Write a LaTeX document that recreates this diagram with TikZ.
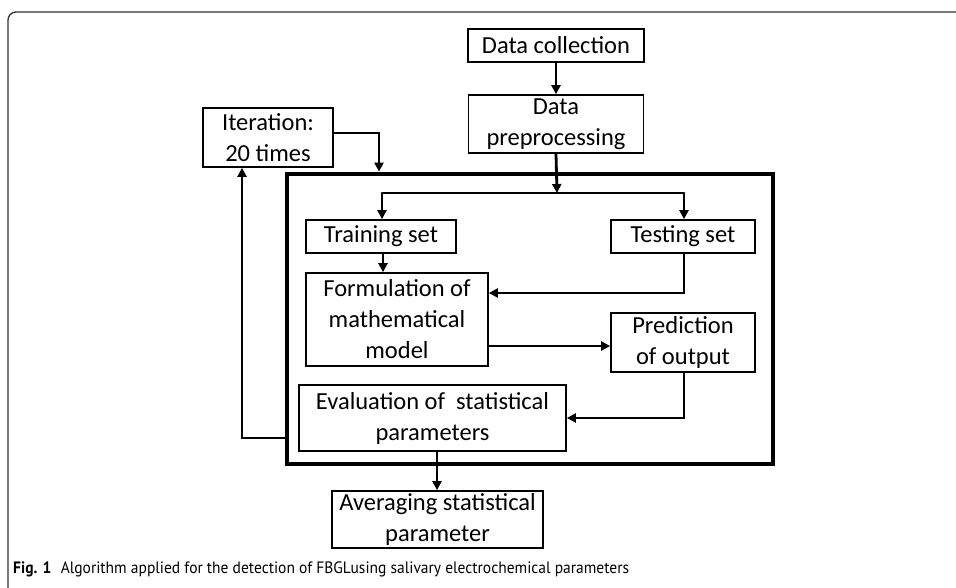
\documentclass[tikz,border=0pt]{standalone}
\usepackage{fontspec}
\setmainfont{Carlito}
\newfontfamily\capfont{PT Sans}
\usetikzlibrary{arrows.meta}
\tikzset{
  box/.style={draw, line width=1.7pt, inner sep=0pt, align=center,
    font=\fontsize{24.5pt}{31pt}\selectfont},
  conn/.style={line width=2.8pt, -{Triangle[length=9pt,width=9pt]}},
  plain/.style={line width=2.8pt},
  bigbox/.style={draw, line width=4.8pt, inner sep=0pt}
}
\begin{document}
\begin{tikzpicture}[x=1pt,y=-1pt]
\useasboundingbox (0,0) rectangle (956,588);
\draw[line width=1.3pt, draw=black!80, rounded corners=8pt] (956,12) -- (8,12) -- (8,590);

\node[bigbox, minimum width=486pt, minimum height=290pt] (big) at (530,319) {};

\node[box, minimum width=176pt, minimum height=33pt] (dc) at (556,45.5) {Data collection};
\node[box, minimum width=175pt, minimum height=58pt] (dp) at (556,124) {Data\\preprocessing};
\node[box, minimum width=130pt, minimum height=59pt] (it) at (268,137.5) {Iteration:\\20 times};
\node[box, minimum width=150pt, minimum height=33pt] (tr) at (381,236.5) {Training set};
\node[box, minimum width=144pt, minimum height=33pt] (te) at (683,236.5) {Testing set};
\node[box, minimum width=182pt, minimum height=93pt] (fm) at (397,319.5) {Formulation of\\mathematical\\model};
\node[box, minimum width=144pt, minimum height=59pt] (pr) at (683,342.5) {Prediction\\of output};
\node[box, minimum width=267pt, minimum height=66pt] (ev) at (432.5,418) {Evaluation of \ statistical\\parameters};
\node[box, minimum width=211pt, minimum height=57pt] (av) at (437.5,519.5) {Averaging statistical\\parameter};

\coordinate (split) at (557,193);
\coordinate (splitL) at (382,193);
\coordinate (splitR) at (684,193);
\coordinate (itc) at (379,133);
\coordinate (tec) at (684,293);
\coordinate (prc) at (684,418);
\coordinate (fbR) at (287,438);
\coordinate (fbL) at (242,438);

\draw[conn] (dc.south) -- (dp.north);
\draw[conn] (dp.south) -- (split);
\draw[plain, line cap=round] (splitL) -- (splitR);
\draw[conn] (splitL) -- (splitL |- tr.north);
\draw[conn] (splitR) -- (splitR |- te.north);
\draw[conn] (it.east |- itc) -- (itc) -- (itc |- big.north);
\draw[conn] (tr.south -| 383,0) -- (fm.north -| 383,0);
\draw[conn] (te.south -| tec) -- (tec) -- (tec -| fm.east);
\draw[conn] (fm.east |- 0,346) -- (pr.west |- 0,346);
\draw[conn] (pr.south -| prc) -- (prc) -- (prc -| ev.east);
\draw[conn] (ev.south -| 437,0) -- (av.north -| 437,0);
\draw[conn] (fbR) -- (fbL) -- (fbL |- it.south);

\node[anchor=base west, inner sep=0pt, font=\capfont\fontsize{16.5pt}{18pt}\selectfont] (cap) at (13,573)
  {\scalebox{0.94}[1]{\textbf{Fig. 1}\hspace{10pt}Algorithm applied for the detection of FBGLusing salivary electrochemical parameters}};
\end{tikzpicture}
\end{document}
